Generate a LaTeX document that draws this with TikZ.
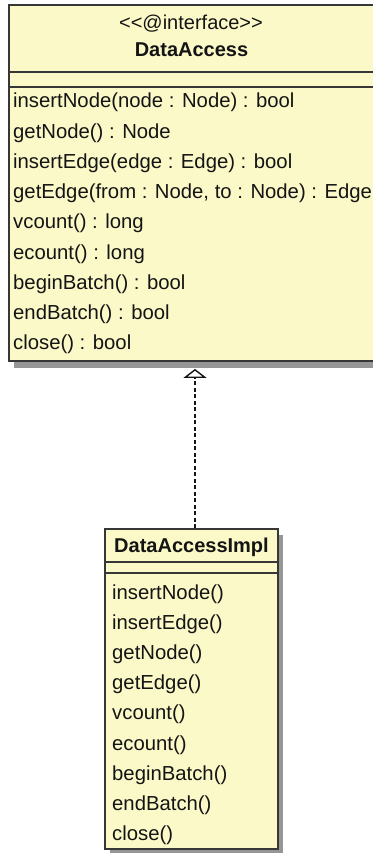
\documentclass[tikz,border=0pt]{standalone}
\usepackage{fontspec}
\setmainfont{Liberation Sans}
\usetikzlibrary{arrows.meta}

\definecolor{classfill}{RGB}{251,249,200}
\definecolor{classline}{RGB}{55,55,55}
\definecolor{shadowgray}{RGB}{150,150,150}
\definecolor{inkcol}{RGB}{20,20,20}

\tikzset{
  classbox/.style={draw=classline, line width=1.8pt, fill=classfill,
    rectangle, inner sep=0pt},
  classshadow/.style={fill=shadowgray, draw=none},
  sepline/.style={draw=classline, line width=1.8pt},
  member/.style={anchor=base west, inner sep=0pt, text=inkcol,
    font=\fontsize{20.3}{24}\selectfont},
  stereo/.style={anchor=base, inner sep=0pt, text=inkcol,
    font=\fontsize{20}{24}\selectfont},
  classname/.style={anchor=base, inner sep=0pt, text=inkcol,
    font=\fontsize{20}{24}\selectfont\bfseries},
  realize/.style={draw=inkcol, line width=1.6pt, dash pattern=on 4pt off 2.5pt,
    -{Triangle[open, length=9pt, width=23pt, line width=1.4pt, fill=white]}},
}

\begin{document}
\begin{tikzpicture}[x=1pt, y=-1pt]
  \useasboundingbox (0,0) rectangle (372,853);

  % drop shadows
  \fill[classshadow] (14,11) rectangle (379,368);
  \fill[classshadow] (110,535) rectangle (283,855);

  % interface DataAccess
  \node[classbox, minimum width=365pt, minimum height=356pt] (iface) at (191.5,183) {};
  \draw[sepline] (9,72) -- (374,72);
  \draw[sepline] (9,87) -- (374,87);
  \node[stereo] (ifstereo) at (191,30) {{<}{<}@interface{>}{>}};
  \node[classname] (ifname) at (191.5,57) {DataAccess};
  \node[member] (m1) at (13,108.0) {insertNode(node : Node) : bool};
  \node[member] (m2) at (13,138.2) {getNode() : Node};
  \node[member] (m3) at (13,168.4) {insertEdge(edge : Edge) : bool};
  \node[member] (m4) at (13,198.6) {getEdge(from : Node, to : Node) : Edge};
  \node[member] (m5) at (13,228.8) {vcount() : long};
  \node[member] (m6) at (13,259.0) {ecount() : long};
  \node[member] (m7) at (13,289.2) {beginBatch() : bool};
  \node[member] (m8) at (13,319.4) {endBatch() : bool};
  \node[member] (m9) at (13,349.6) {close() : bool};

  % class DataAccessImpl
  \node[classbox, minimum width=173pt, minimum height=320pt] (impl) at (191.5,689) {};
  \draw[sepline] (105,562) -- (278,562);
  \draw[sepline] (105,573) -- (278,573);
  \node[classname] (implname) at (191.5,552) {DataAccessImpl};
  \node[member] (i1) at (112,599.0) {insertNode()};
  \node[member] (i2) at (112,629.2) {insertEdge()};
  \node[member] (i3) at (112,659.4) {getNode()};
  \node[member] (i4) at (112,689.6) {getEdge()};
  \node[member] (i5) at (112,719.8) {vcount()};
  \node[member] (i6) at (112,750.0) {ecount()};
  \node[member] (i7) at (112,780.2) {beginBatch()};
  \node[member] (i8) at (112,810.4) {endBatch()};
  \node[member] (i9) at (112,840.6) {close()};

  % realization
  \draw[realize] ([xshift=3.5pt]impl.north) -- ([xshift=3.5pt, yshift=-7pt]iface.south);
\end{tikzpicture}
\end{document}
